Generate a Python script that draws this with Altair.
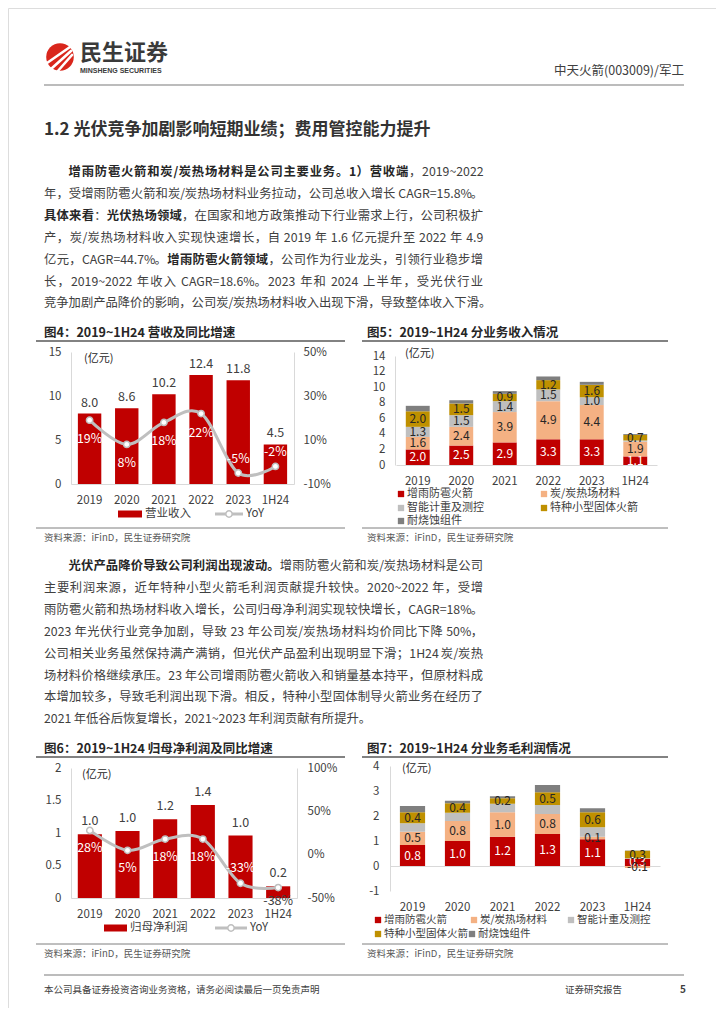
import altair as alt
import pandas as pd

FONT = "Noto Sans CJK SC"
W, H = 708, 1000


def P(v):
    return v - 8


# ---------------- data ----------------
years = ["2019", "2020", "2021", "2022", "2023", "1H24"]
revenue = [8.0, 8.6, 10.2, 12.4, 11.8, 4.5]
revenue_yoy = [19, 8, 18, 22, -5, -2]
net_profit = [0.98, 1.03, 1.21, 1.43, 0.96, 0.18]
profit_yoy = [28, 5, 18, 18, -33, -38]

seg_names = ["增雨防雹火箭", "炭/炭热场材料", "智能计重及测控", "特种小型固体火箭", "耐烧蚀组件"]
seg_colors = ["#C00000", "#F4B183", "#BFBFBF", "#BF9000", "#7F7F7F"]

rev_rocket = [2.0, 2.5, 2.9, 3.3, 3.3, 1.1]
rev_carbon = [1.6, 2.4, 3.9, 4.9, 4.4, 1.9]
rev_smart = [1.3, 1.5, 1.4, 1.5, 1.0, 0.15]
rev_small = [2.0, 1.5, 0.94, 1.2, 1.6, 0.7]
rev_ablation = [0.7, 0.42, 0.35, 0.47, 0.38, 0.12]

gp_rocket = [0.84, 1.0, 1.17, 1.28, 1.07, 0.29]
gp_carbon = [0.53, 0.8, 0.98, 0.8, 0.1, -0.08]
gp_smart = [0.34, 0.33, 0.34, 0.36, 0.38, 0.02]
gp_small = [0.44, 0.38, 0.22, 0.51, 0.6, 0.3]
gp_ablation = [0.25, 0.1, 0.08, 0.29, 0.16, 0.01]

header_title = "中天火箭(003009)/军工"
section_title = "1.2 光伏竞争加剧影响短期业绩；费用管控能力提升"
para1 = [
    [("增雨防雹火箭和炭/炭热场材料是公司主要业务。1）营收端", True), ("，2019~2022", False)],
    [("年，受增雨防雹火箭和炭/炭热场材料业务拉动，公司总收入增长 CAGR=15.8%。", False)],
    [("具体来看", True), ("：", False), ("光伏热场领域", True), ("，在国家和地方政策推动下行业需求上行，公司积极扩", False)],
    [("产，炭/炭热场材料收入实现快速增长，自 2019 年 1.6 亿元提升至 2022 年 4.9", False)],
    [("亿元，CAGR=44.7%。", False), ("增雨防雹火箭领域", True), ("，公司作为行业龙头，引领行业稳步增", False)],
    [("长，2019~2022 年收入 CAGR=18.6%。2023 年和 2024 上半年，受光伏行业", False)],
    [("竞争加剧产品降价的影响，公司炭/炭热场材料收入出现下滑，导致整体收入下滑。", False)],
]
para2 = [
    [("光伏产品降价导致公司利润出现波动。", True), ("增雨防雹火箭和炭/炭热场材料是公司", False)],
    [("主要利润来源，近年特种小型火箭毛利润贡献提升较快。2020~2022 年，受增", False)],
    [("雨防雹火箭和热场材料收入增长，公司归母净利润实现较快增长，CAGR=18%。", False)],
    [("2023 年光伏行业竞争加剧，导致 23 年公司炭/炭热场材料均价同比下降 50%，", False)],
    [("公司相关业务虽然保持满产满销，但光伏产品盈利出现明显下滑；1H24 炭/炭热", False)],
    [("场材料价格继续承压。23 年公司增雨防雹火箭收入和销量基本持平，但原材料成", False)],
    [("本增加较多，导致毛利润出现下滑。相反，特种小型固体制导火箭业务在经历了", False)],
    [("2021 年低谷后恢复增长，2021~2023 年利润贡献有所提升。", False)],
]
fig_titles = ["图4：2019~1H24 营收及同比增速", "图5：2019~1H24 分业务收入情况",
              "图6：2019~1H24 归母净利润及同比增速", "图7：2019~1H24 分业务毛利润情况"]
source_text = "资料来源：iFinD，民生证券研究院"
unit_text = "(亿元)"
footer_left = "本公司具备证券投资咨询业务资格，请务必阅读最后一页免责声明"
footer_mid = "证券研究报告"
page_no = "5"

RED = "#C00000"
GRID = "#D9D9D9"
TXT = "#404040"
DARK = "#262626"

one = pd.DataFrame({"d": [0]})


# ---------------- helpers ----------------
def est_width(s, size):
    w = 0.0
    for ch in s:
        o = ord(ch)
        if o > 0x2E80:
            w += 1.0
        elif ch.isdigit():
            w += 0.55
        elif ch in ".,:;":
            w += 0.27
        elif ch == " ":
            w += 0.22
        elif ch == "/":
            w += 0.36
        elif ch in "~=":
            w += 0.55
        elif ch == "%":
            w += 0.85
        elif ch.isupper():
            w += 0.64
        else:
            w += 0.5
    return w * size


def texts(rows, size, color, weight="normal", align="left", font=FONT):
    df = pd.DataFrame(rows, columns=["t", "x", "y"])
    df["x"] = df["x"] - 8
    df["y"] = df["y"] - 8
    return alt.Chart(df).mark_text(
        align=align, baseline="middle", fontSize=size, color=color,
        fontWeight=weight, font=font
    ).encode(
        x=alt.X("x:Q", scale=None, axis=None),
        y=alt.Y("y:Q", scale=None, axis=None),
        text="t:N",
    )


def hrule(x1, x2, y, color, w):
    return alt.Chart(one).mark_rule(color=color, strokeWidth=w).encode(
        x=alt.value(P(x1)), x2=alt.value(P(x2)), y=alt.value(P(y))
    )


def xenc(rng, pi, po, axis_y, pad=10):
    scale = alt.Scale(domain=years, range=[P(rng[0]), P(rng[1])], paddingInner=pi, paddingOuter=po)
    return alt.X("year:N", sort=years, scale=scale, axis=alt.Axis(
        orient="bottom", offset=P(axis_y) - H, title=None, ticks=False, tickSize=0,
        domainColor=GRID, domainWidth=1, labelPadding=pad, labelFontSize=11.5,
        labelColor=TXT, labelFont=FONT, labelAngle=0, grid=False))


def yaxis(orient, xpos, values, pad, fmt_suffix=""):
    off = -P(xpos) if orient == "left" else P(xpos) - W
    return alt.Axis(orient=orient, offset=off, values=values, grid=False, ticks=False, tickSize=0,
                    domainColor=GRID, domainWidth=1, labelPadding=pad, labelFontSize=11.5,
                    labelColor=TXT, labelFont=FONT, title=None,
                    labelExpr="'' + datum.value + '" + fmt_suffix + "'")


# ---------------- page furniture ----------------
layers = []
# logo
layers.append(alt.Chart(one).mark_circle(color="#D9261C", opacity=1, size=760).encode(
    x=alt.value(P(60)), y=alt.value(P(57))))
stripes = pd.DataFrame({"x": [47, 51, 57], "y": [63, 69, 72], "x2": [70, 71, 72], "y2": [47, 51, 55]})
stripes = stripes - 8
layers.append(alt.Chart(stripes).mark_rule(color="white", strokeWidth=2.6, strokeCap="round").encode(
    x=alt.X("x:Q", scale=None, axis=None), y=alt.Y("y:Q", scale=None, axis=None),
    x2="x2:Q", y2="y2:Q"))
layers.append(texts([("民生证券", 80, 53)], 22, "#3A3A3A", "bold"))
layers.append(texts([("MINSHENG SECURITIES", 80, 70.5)], 7, "#3A3A3A", "bold", font="Liberation Sans"))
layers.append(texts([(header_title, 684, 71)], 12.5, TXT, align="right"))
layers.append(hrule(44, 684, 85, "#A6A6A6", 1.5))

# section title
layers.append(texts([(section_title, 44, 130)], 17, "#333333", "bold"))


def tokenize(segs, size):
    toks = []
    for s, b in segs:
        i = 0
        while i < len(s):
            ch = s[i]
            if ch == " ":
                toks.append((None, b, est_width(" ", size)))
                i += 1
            elif ord(ch) < 0x2E80:
                j = i
                while j < len(s) and s[j] != " " and ord(s[j]) < 0x2E80:
                    j += 1
                toks.append((s[i:j], b, est_width(s[i:j], size)))
                i = j
            else:
                toks.append((ch, b, size))
                i += 1
    return toks


def para_layers(lines, y0, step, size=12.3, x0=44, x1=483):
    normal, bold = [], []
    for i, segs in enumerate(lines):
        start = x0 + (2 * size if i == 0 else 0)
        y = y0 + i * step
        toks = tokenize(segs, size)
        natural = sum(t[2] for t in toks)
        last = i == len(lines) - 1
        extra = 0 if last else (x1 - start - natural) / max(1, len(toks) - 1)
        x = start
        for t, b, w in toks:
            if t is not None:
                (bold if b else normal).append((t, x, y))
            x += w + extra
    out = [texts(normal, size, TXT)]
    if bold:
        out.append(texts(bold, size, DARK, "bold"))
    return out


layers += para_layers(para1, 172, 21.9)
layers += para_layers(para2, 566, 21.9)

# figure titles, rules, sources
fig_layout = [(44, 333, 36, 345, 341, 528), (367, 333, 362, 668, 341, 528),
              (44, 749, 36, 345, 757, 944), (367, 749, 362, 668, 757, 944)]
for t, (tx, ty, l1, l2, ly, sy) in zip(fig_titles, fig_layout):
    layers.append(texts([(t, tx, ty)], 12.5, DARK, "bold"))
    layers.append(hrule(l1, l2, ly, "#595959", 1.5))
    layers.append(hrule(l1, l2, sy, "#7F7F7F", 1))
    layers.append(texts([(source_text, tx, sy + 10)], 9.5, "#595959"))

# unit labels
layers.append(texts([(unit_text, 84, 359), (unit_text, 405, 354), (unit_text, 82, 775), (unit_text, 402, 769)], 11, DARK))

# legends for bar + line charts (fig4, fig6)
for (rx1, rx2, ly, name, lx1, lx2) in [(118, 142, 514, "营业收入", 215, 243), (104, 127, 928, "归母净利润", 215, 247)]:
    layers.append(alt.Chart(one).mark_rect(color=RED).encode(
        x=alt.value(P(rx1)), x2=alt.value(P(rx2)), y=alt.value(P(ly - 3.5)), y2=alt.value(P(ly + 3.5))))
    layers.append(texts([(name, rx2 + 3, ly)], 11.5, TXT))
    layers.append(alt.Chart(one).mark_rule(color="#BFBFBF", strokeWidth=3).encode(
        x=alt.value(P(lx1)), x2=alt.value(P(lx2)), y=alt.value(P(ly))))
    layers.append(alt.Chart(one).mark_circle(fill="white", stroke="#BFBFBF", strokeWidth=1.5, size=40, opacity=1).encode(
        x=alt.value(P((lx1 + lx2) / 2)), y=alt.value(P(ly))))
    layers.append(texts([("YoY", lx2 + 3, ly)], 11.5, TXT))


def square_legend(pos, size=10.5):
    rows = []
    for (i, x, y) in pos:
        rows.append({"x": P(x), "y": P(y), "c": seg_colors[i], "t": seg_names[i]})
    df = pd.DataFrame(rows)
    sq = alt.Chart(df).mark_square(size=40, opacity=1).encode(
        x=alt.X("x:Q", scale=None, axis=None), y=alt.Y("y:Q", scale=None, axis=None),
        color=alt.Color("c:N", scale=None))
    lab = alt.Chart(df).transform_calculate(xt="datum.x + 6").mark_text(
        align="left", baseline="middle", fontSize=size, color=TXT, font=FONT).encode(
        x=alt.X("xt:Q", scale=None, axis=None), y=alt.Y("y:Q", scale=None, axis=None), text="t:N")
    return [sq, lab]


layers += square_legend([(0, 401, 494), (1, 544, 494), (2, 401, 508), (3, 544, 508), (4, 401, 521)], 11)
layers += square_legend([(0, 378, 920), (1, 474, 920), (2, 571, 920), (3, 378, 934), (4, 472, 934)], 10.5)

# footer
layers.append(hrule(44, 684, 975, "#A6A6A6", 1.5))
layers.append(texts([(footer_left, 44, 990), (footer_mid, 565, 990)], 9.5, TXT))
layers.append(texts([(page_no, 683, 990)], 10, TXT, "bold", align="center"))

# ---------------- figure 4 ----------------
df4 = pd.DataFrame({"year": years, "rev": revenue, "yoy": revenue_yoy})
x4 = xenc((71, 294), 0.37, 0.185, 484, 10)
y4 = alt.Y("rev:Q", scale=alt.Scale(domain=[0, 15], range=[P(484), P(352)]),
           axis=yaxis("left", 71, [0, 5, 10, 15], 10))
y4r = alt.Y("yoy:Q", scale=alt.Scale(domain=[-10, 50], range=[P(484), P(352)]),
            axis=yaxis("right", 294, [-10, 10, 30, 50], 9, "%"))
bars4 = alt.Chart(df4).mark_bar(color=RED).encode(x=x4, y=y4)
blab4 = alt.Chart(df4).mark_text(baseline="bottom", dy=-4, fontSize=12.5, color=TXT, font=FONT).encode(
    x=x4, y=y4, text=alt.Text("rev:Q", format=".1f"))
line4 = alt.Chart(df4).mark_line(color="#BFBFBF", strokeWidth=3, interpolate="cardinal").encode(x=x4, y=y4r)
pts4 = alt.Chart(df4).mark_circle(fill="white", stroke="#BFBFBF", strokeWidth=1.5, size=40, opacity=1).encode(
    x=x4, y=y4r)
ylab4a = alt.Chart(df4).transform_filter("datum.yoy >= 0").transform_calculate(lbl="datum.yoy + '%'").mark_text(
    dy=19, fontSize=12.5, color="white", font=FONT).encode(x=x4, y=y4r, text="lbl:N")
ylab4b = alt.Chart(df4).transform_filter("datum.yoy < 0").transform_calculate(lbl="datum.yoy + '%'").mark_text(
    dy=-14, fontSize=12.5, color="white", font=FONT).encode(x=x4, y=y4r, text="lbl:N")
chart4 = alt.layer(alt.layer(bars4, blab4), alt.layer(line4, pts4, ylab4a, ylab4b)).resolve_scale(y="independent")

# ---------------- figure 6 ----------------
df6 = pd.DataFrame({"year": years, "np": net_profit, "yoy": profit_yoy})
x6 = xenc((71, 297), 0.36, 0.18, 898, 10)
y6 = alt.Y("np:Q", scale=alt.Scale(domain=[0, 2], range=[P(898), P(768)]),
           axis=yaxis("left", 71, [0, 0.5, 1, 1.5, 2], 10))
y6r = alt.Y("yoy:Q", scale=alt.Scale(domain=[-50, 100], range=[P(898), P(768)]),
            axis=yaxis("right", 297, [-50, 0, 50, 100], 10, "%"))
bars6 = alt.Chart(df6).mark_bar(color=RED).encode(x=x6, y=y6)
blab6 = alt.Chart(df6).mark_text(baseline="bottom", dy=-6, fontSize=12.5, color=TXT, font=FONT).encode(
    x=x6, y=y6, text=alt.Text("np:Q", format=".1f"))
line6 = alt.Chart(df6).mark_line(color="#BFBFBF", strokeWidth=3, interpolate="cardinal").encode(x=x6, y=y6r)
pts6 = alt.Chart(df6).mark_circle(fill="white", stroke="#BFBFBF", strokeWidth=1.5, size=40, opacity=1).encode(
    x=x6, y=y6r)


def ylab6(filt, dy, color):
    return alt.Chart(df6).transform_filter(filt).transform_calculate(lbl="datum.yoy + '%'").mark_text(
        dy=dy, fontSize=12.5, color=color, font=FONT).encode(x=x6, y=y6r, text="lbl:N")


chart6 = alt.layer(
    alt.layer(bars6, blab6),
    alt.layer(line6, pts6,
              ylab6("datum.year != '2023' && datum.year != '1H24'", 18, "white"),
              ylab6("datum.year == '2023'", -15, "white"),
              ylab6("datum.year == '1H24'", 13, TXT)),
).resolve_scale(y="independent")


# ---------------- stacked figures 5 & 7 ----------------
def long_df(series):
    rows = []
    for k, vals in enumerate(series):
        for yr, v in zip(years, vals):
            rows.append({"year": yr, "s": seg_names[k], "k": k, "v": v})
    return pd.DataFrame(rows)


def stacked(df, xe, yscale, yax, label_filter, lsize=12):
    base = alt.Chart(df).transform_stack(
        stack="v", groupby=["year"], as_=["v0", "v1"], sort=[alt.SortField("k", order="ascending")]
    ).transform_calculate(mid="(datum.v0 + datum.v1) / 2",
                          lbl="(datum.v < 0 ? '-' : '') + format(abs(datum.v), '.1f')")
    bars = base.mark_bar().encode(
        x=xe,
        y=alt.Y("v0:Q", scale=yscale, axis=yax),
        y2="v1:Q",
        color=alt.Color("s:N", scale=alt.Scale(domain=seg_names, range=seg_colors), legend=None))
    labs = base.transform_filter(label_filter).mark_text(fontSize=lsize, font=FONT, baseline="middle").encode(
        x=xe, y=alt.Y("mid:Q", scale=yscale, axis=yax), text="lbl:N",
        color=alt.when(alt.datum.k == 0).then(alt.value("white")).otherwise(alt.value(DARK)))
    return alt.layer(bars, labs)


df5 = long_df([rev_rocket, rev_carbon, rev_smart, rev_small, rev_ablation])
chart5 = stacked(df5, xenc((396, 657), 0.45, 0.225, 465, 10),
                 alt.Scale(domain=[0, 14], range=[P(465), P(356)]),
                 yaxis("left", 395, [0, 2, 4, 6, 8, 10, 12, 14], 10),
                 "datum.k != 4 && abs(datum.v) >= 0.3", 12)

df7 = long_df([gp_rocket, gp_carbon, gp_smart, gp_small, gp_ablation])
chart7 = stacked(df7, xenc((390, 660), 0.44, 0.22, 866, 35),
                 alt.Scale(domain=[-1, 4], range=[P(891), P(766)]),
                 yaxis("left", 390, [-1, 0, 1, 2, 3, 4], 11),
                 "datum.k == 0 || datum.k == 1 || datum.k == 3", 12)

page = alt.layer(*layers, chart4, chart5, chart6, chart7).resolve_scale(
    x="independent", y="independent", color="independent"
).properties(
    width=W, height=H, padding=0, autosize=alt.AutoSizeParams(type="none")
).configure_view(strokeWidth=0).configure(background="white")

page.save("out.html", embed_options={"renderer": "svg", "actions": False})
